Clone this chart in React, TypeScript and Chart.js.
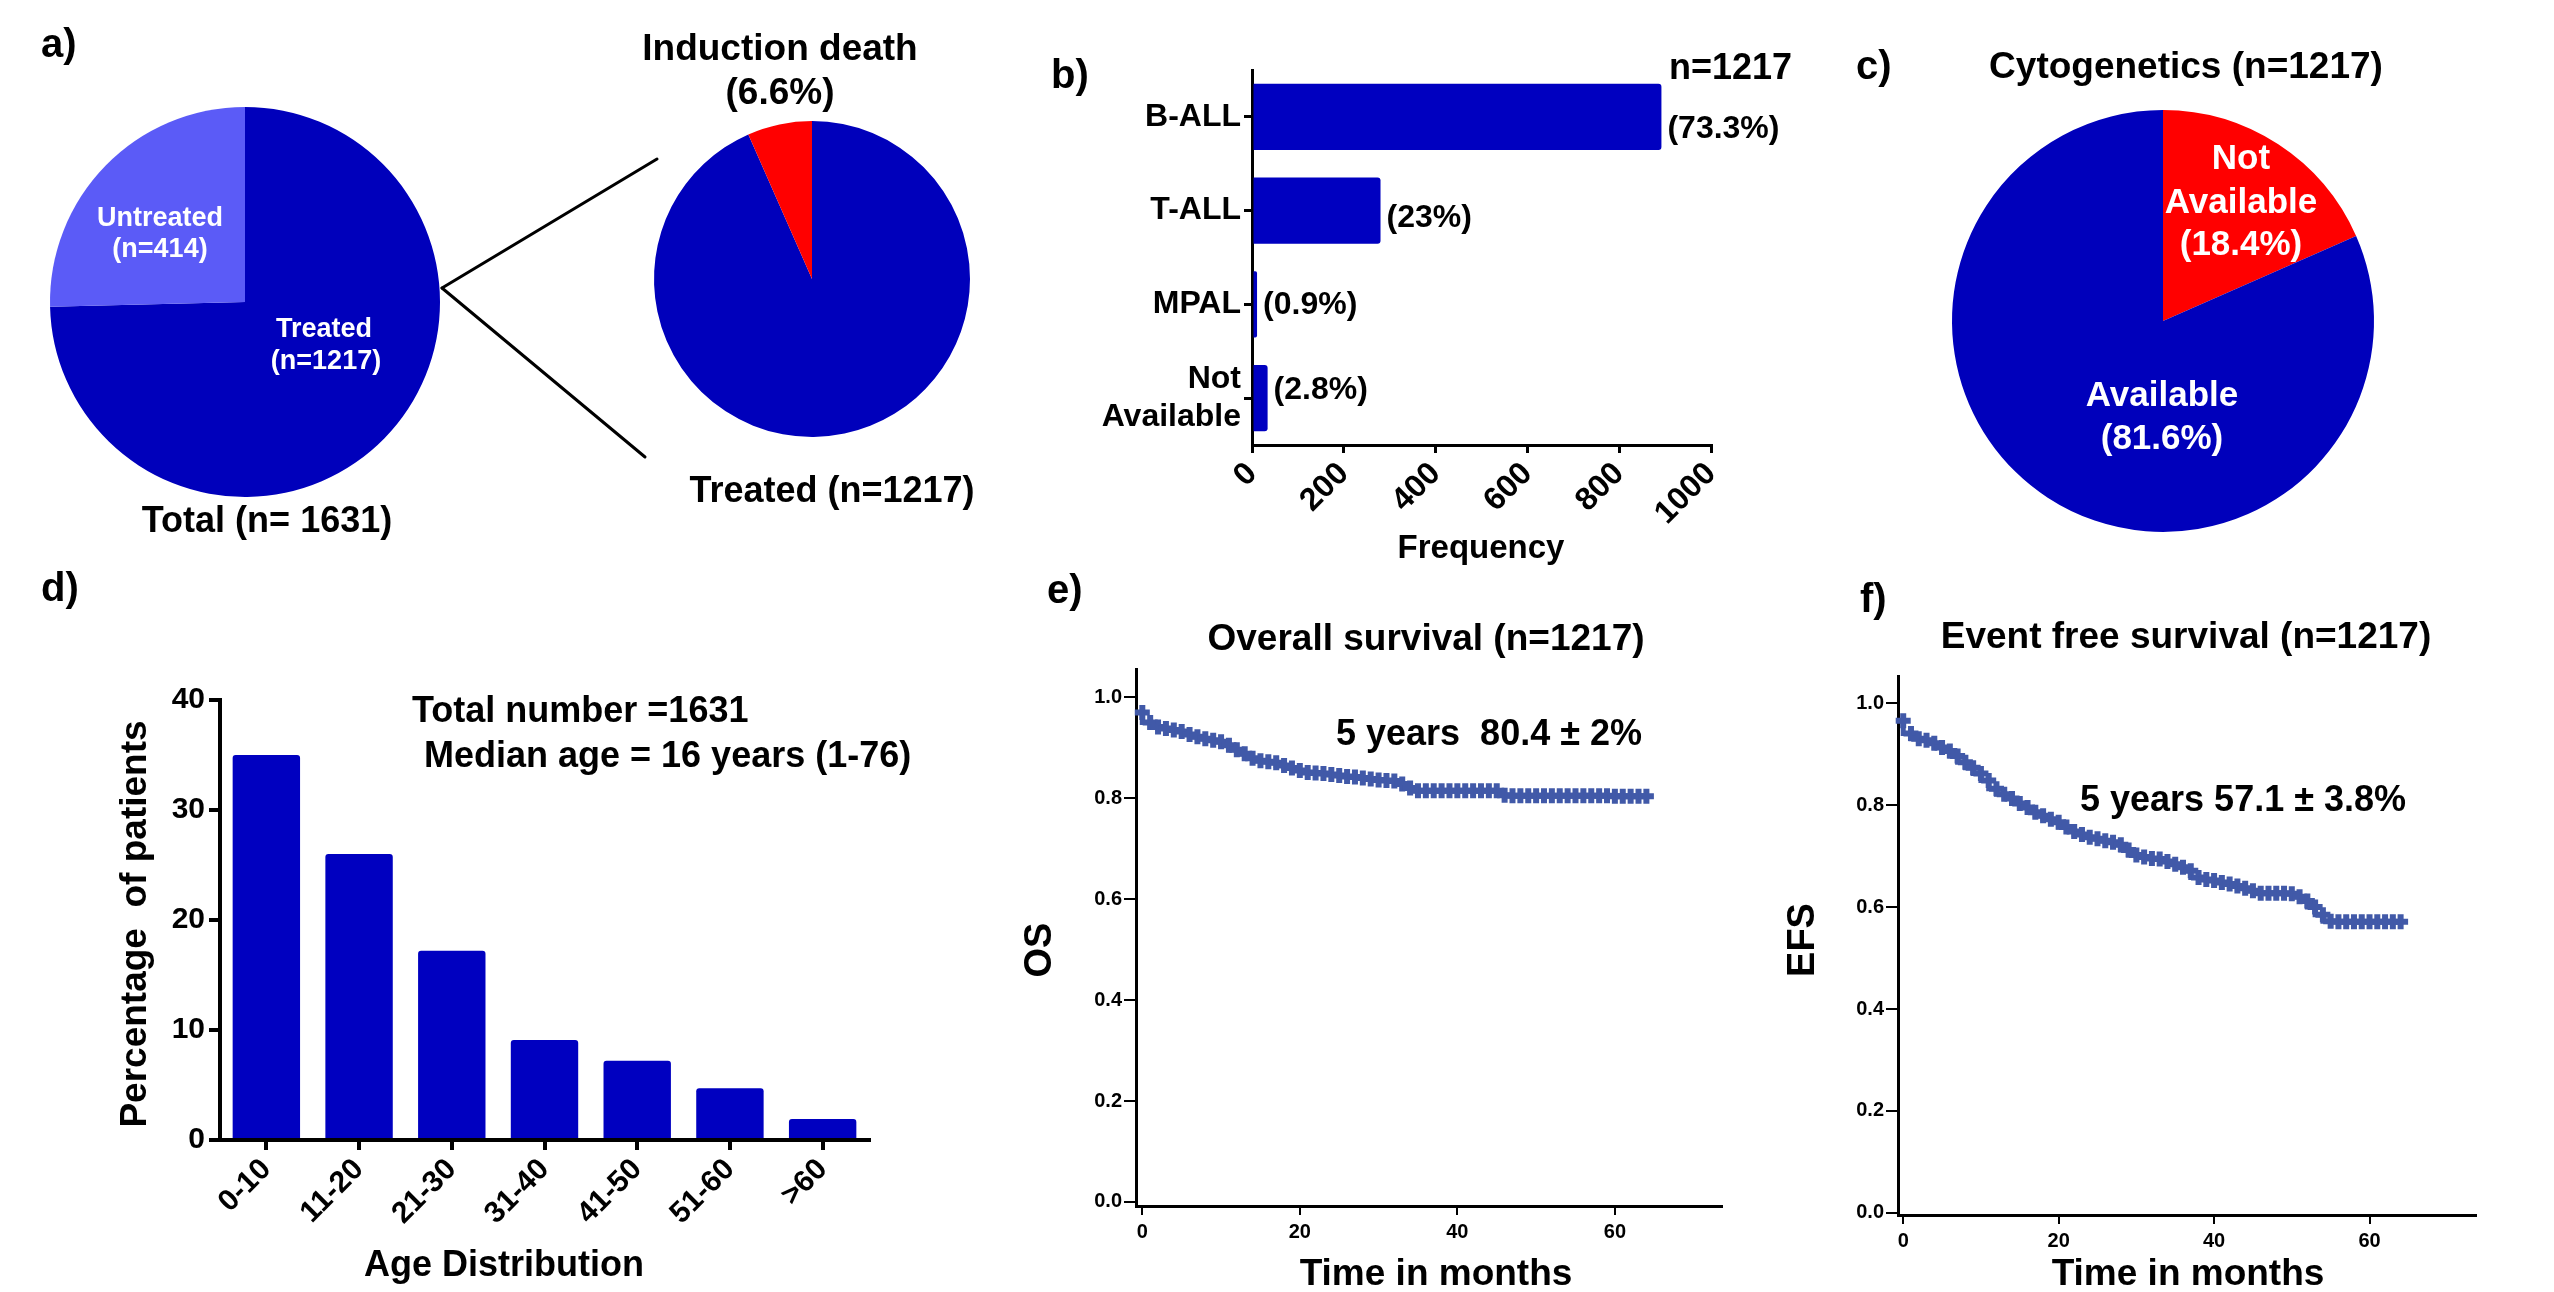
import React, { useEffect, useRef } from 'react';
import { Chart, registerables } from 'chart.js';

Chart.register(...registerables);

const FONT = "'Liberation Sans', Arial, Helvetica, sans-serif";
const PIE_BLUE = '#0000BB';
const PIE_LIGHT = '#5B5BF7';
const RED = '#FF0000';
const BAR_BLUE = '#0000C0';
const KM_BLUE = '#4159A8';

// ---------- Panel a ----------
const TOTAL_LABELS = ['Treated', 'Untreated'];
const TOTAL_COUNTS = [1217, 414];
const TREATED_LABELS = ['Alive after induction', 'Induction death'];
const TREATED_PERCENT = [93.4, 6.6];

// ---------- Panel b ----------
const LINEAGE_LABELS = ['B-ALL', 'T-ALL', 'MPAL', 'Not Available'];
const LINEAGE_COUNTS = [892, 280, 11, 34];
const LINEAGE_PCT = ['(73.3%)', '(23%)', '(0.9%)', '(2.8%)'];
const FREQ_TICKS = [0, 200, 400, 600, 800, 1000];

// ---------- Panel c ----------
const CYTO_LABELS = ['Not Available', 'Available'];
const CYTO_PERCENT = [18.4, 81.6];

// ---------- Panel d ----------
const AGE_GROUPS = ['0-10', '11-20', '21-30', '31-40', '41-50', '51-60', '>60'];
const AGE_PERCENT = [35, 26, 17.2, 9.1, 7.2, 4.7, 1.9];
const PCT_TICKS = [0, 10, 20, 30, 40];

// ---------- Panels e / f ----------
const MONTHS = [
  0, 1, 2, 3, 4, 5, 6, 7, 8, 9,
  10, 11, 12, 13, 14, 15, 16, 17, 18, 19,
  20, 21, 22, 23, 24, 25, 26, 27, 28, 29,
  30, 31, 32, 33, 34, 35, 36, 37, 38, 39,
  40, 41, 42, 43, 44, 45, 46, 47, 48, 49,
  50, 51, 52, 53, 54, 55, 56, 57, 58, 59,
  60, 61, 62, 63, 64,
];
const OS = [
  0.970, 0.950, 0.941, 0.938, 0.935, 0.932, 0.926, 0.922, 0.918, 0.915,
  0.912, 0.905, 0.896, 0.888, 0.879, 0.874, 0.872, 0.870, 0.865, 0.860,
  0.855, 0.851, 0.850, 0.849, 0.847, 0.845, 0.843, 0.842, 0.840, 0.838,
  0.836, 0.835, 0.834, 0.828, 0.820, 0.815, 0.815, 0.815, 0.815, 0.815,
  0.815, 0.815, 0.815, 0.815, 0.815, 0.815, 0.806, 0.805, 0.805, 0.805,
  0.805, 0.805, 0.805, 0.805, 0.805, 0.805, 0.805, 0.805, 0.805, 0.805,
  0.804, 0.804, 0.804, 0.804, 0.804,
];
const EFS = [
  0.965, 0.940, 0.930, 0.927, 0.921, 0.913, 0.906, 0.896, 0.884, 0.873,
  0.862, 0.848, 0.832, 0.821, 0.813, 0.803, 0.795, 0.786, 0.779, 0.772,
  0.766, 0.757, 0.748, 0.742, 0.737, 0.734, 0.730, 0.727, 0.722, 0.712,
  0.702, 0.698, 0.695, 0.694, 0.689, 0.684, 0.678, 0.671, 0.658, 0.654,
  0.652, 0.648, 0.645, 0.641, 0.637, 0.632, 0.627, 0.627, 0.627, 0.627,
  0.626, 0.620, 0.612, 0.600, 0.585, 0.572, 0.571, 0.571, 0.571, 0.571,
  0.571, 0.571, 0.571, 0.571, 0.571,
];
const MONTH_TICKS = [0, 20, 40, 60];
const SURV_TICKS = [0, 0.2, 0.4, 0.6, 0.8, 1.0];

// ---------- helpers ----------
type Txt = { t: string; x: number; y: number; s: number; a?: CanvasTextAlign; c?: string; r?: number };
type Seg = [number, number, number, number];

function overlay(
  id: string,
  ox: number,
  oy: number,
  items: Txt[],
  segs: Seg[] = [],
  extra?: (chart: any, ctx: CanvasRenderingContext2D) => void
) {
  return {
    id,
    afterDraw(chart: any) {
      const ctx = chart.ctx as CanvasRenderingContext2D;
      ctx.save();
      ctx.strokeStyle = '#000';
      ctx.lineWidth = 3;
      ctx.lineCap = 'round';
      for (const [x1, y1, x2, y2] of segs) {
        ctx.beginPath();
        ctx.moveTo(x1 - ox, y1 - oy);
        ctx.lineTo(x2 - ox, y2 - oy);
        ctx.stroke();
      }
      for (const it of items) {
        ctx.save();
        ctx.translate(it.x - ox, it.y - oy);
        if (it.r) ctx.rotate(it.r);
        ctx.font = `bold ${it.s}px ${FONT}`;
        ctx.fillStyle = it.c ?? '#000';
        ctx.textAlign = it.a ?? 'center';
        ctx.textBaseline = 'middle';
        ctx.fillText(it.t, 0, 0);
        ctx.restore();
      }
      if (extra) extra(chart, ctx);
      ctx.restore();
    },
  };
}

const tickFont = (size: number) => ({ family: FONT, size, weight: 'bold' as const });

function axisStyle(lineW: number, tickLen: number, tickW: number) {
  return {
    grid: {
      display: true,
      drawOnChartArea: false,
      drawTicks: true,
      tickLength: tickLen,
      lineWidth: tickW,
      color: '#000',
      offset: false,
    },
    border: { display: true, color: '#000', width: lineW },
  };
}

const noPlugins = { legend: { display: false }, tooltip: { enabled: false } };

function pieConfig(labels: string[], values: number[], colors: string[], pad: any, plugin: any): any {
  return {
    type: 'pie',
    data: {
      labels,
      datasets: [{ data: values, backgroundColor: colors, borderWidth: 0, hoverOffset: 0, offset: 0 }],
    },
    options: {
      responsive: false,
      animation: false,
      events: [],
      layout: { padding: pad },
      plugins: noPlugins,
    },
    plugins: [plugin],
  };
}

function kmConfig(values: number[], pad: any, xMin: number, xMax: number, yMin: number, yMax: number, yW: number, xH: number, plugin: any): any {
  return {
    type: 'line',
    data: {
      datasets: [
        {
          data: MONTHS.map((m, i) => ({ x: m, y: values[i] })),
          stepped: 'after',
          borderColor: KM_BLUE,
          borderWidth: 5,
          pointStyle: 'cross',
          pointRadius: 7.5,
          pointBorderWidth: 6,
          pointBorderColor: KM_BLUE,
          pointBackgroundColor: KM_BLUE,
          fill: false,
          clip: 10,
        },
      ],
    },
    options: {
      responsive: false,
      animation: false,
      events: [],
      layout: { padding: pad },
      plugins: noPlugins,
      scales: {
        x: {
          type: 'linear',
          min: xMin,
          max: xMax,
          ...axisStyle(3, 9, 2),
          ticks: { font: tickFont(20), color: '#000', padding: 5, maxRotation: 0, callback: (v: any) => String(v) },
          afterBuildTicks: (s: any) => {
            s.ticks = MONTH_TICKS.map((v) => ({ value: v }));
          },
          afterFit: (s: any) => {
            s.height = xH;
          },
        },
        y: {
          type: 'linear',
          min: yMin,
          max: yMax,
          ...axisStyle(3, 12, 2),
          ticks: { font: tickFont(20), color: '#000', padding: 2, callback: (v: any) => Number(v).toFixed(1) },
          afterBuildTicks: (s: any) => {
            s.ticks = SURV_TICKS.map((v) => ({ value: v }));
          },
          afterFit: (s: any) => {
            s.width = yW;
          },
        },
      },
    },
    plugins: [plugin],
  };
}

// ---------- chart configs ----------
const configA1 = () =>
  pieConfig(
    TOTAL_LABELS,
    TOTAL_COUNTS,
    [PIE_BLUE, PIE_LIGHT],
    { left: 50, top: 107, right: 260, bottom: 63 },
    overlay(
      'a1',
      0,
      0,
      [
        { t: 'a)', x: 41, y: 46, s: 40, a: 'left' },
        { t: 'Untreated', x: 160, y: 219, s: 27, c: '#fff' },
        { t: '(n=414)', x: 160, y: 250, s: 27, c: '#fff' },
        { t: 'Treated', x: 324, y: 330, s: 27, c: '#fff' },
        { t: '(n=1217)', x: 326, y: 362, s: 27, c: '#fff' },
        { t: 'Total (n= 1631)', x: 267, y: 522, s: 36 },
      ],
      [
        [442, 288, 657, 159],
        [442, 288, 645, 457],
      ]
    )
  );

const configA2 = () =>
  pieConfig(
    TREATED_LABELS,
    TREATED_PERCENT,
    [PIE_BLUE, RED],
    { left: 54, top: 121, right: 50, bottom: 103 },
    overlay('a2', 600, 0, [
      { t: 'Induction death', x: 780, y: 50, s: 37 },
      { t: '(6.6%)', x: 780, y: 94, s: 37 },
      { t: 'Treated (n=1217)', x: 832, y: 492, s: 36 },
    ])
  );

const configC = () =>
  pieConfig(
    CYTO_LABELS,
    CYTO_PERCENT,
    [RED, PIE_BLUE],
    { left: 152, top: 110, right: 180, bottom: 68 },
    overlay('c', 1800, 0, [
      { t: 'c)', x: 1856, y: 68, s: 40, a: 'left' },
      { t: 'Cytogenetics (n=1217)', x: 2186, y: 68, s: 37 },
      { t: 'Not', x: 2241, y: 159, s: 35, c: '#fff' },
      { t: 'Available', x: 2241, y: 203, s: 35, c: '#fff' },
      { t: '(18.4%)', x: 2241, y: 245, s: 35, c: '#fff' },
      { t: 'Available', x: 2162, y: 396, s: 35, c: '#fff' },
      { t: '(81.6%)', x: 2162, y: 439, s: 35, c: '#fff' },
    ])
  );

const PCT_LABEL_DY = [12, 8, 1, -8];

const configB = (): any => ({
  type: 'bar',
  data: {
    labels: LINEAGE_LABELS,
    datasets: [
      {
        data: LINEAGE_COUNTS,
        backgroundColor: BAR_BLUE,
        borderRadius: 3,
        borderSkipped: 'start',
        barPercentage: 0.706,
        categoryPercentage: 1,
      },
    ],
  },
  options: {
    indexAxis: 'y',
    responsive: false,
    animation: false,
    events: [],
    layout: { padding: { top: 50, right: 89, left: 0, bottom: 0 } },
    plugins: noPlugins,
    scales: {
      y: {
        type: 'category',
        offset: true,
        ...axisStyle(3, 8, 3),
        ticks: {
          font: tickFont(32),
          color: '#000',
          padding: 3,
          autoSkip: false,
          callback: (_v: any, i: number) => {
            const l = LINEAGE_LABELS[i];
            return l.includes(' ') ? l.split(' ') : l;
          },
        },
        afterFit: (s: any) => {
          s.width = 252;
        },
      },
      x: {
        type: 'linear',
        min: 0,
        max: 1000,
        ...axisStyle(3, 8, 3),
        ticks: {
          font: tickFont(32),
          color: '#000',
          minRotation: 45,
          maxRotation: 45,
          autoSkip: false,
          padding: 2,
          callback: (v: any) => String(v),
        },
        afterBuildTicks: (s: any) => {
          s.ticks = FREQ_TICKS.map((v) => ({ value: v }));
        },
        afterFit: (s: any) => {
          s.height = 140;
        },
      },
    },
  },
  plugins: [
    overlay(
      'b',
      1000,
      20,
      [
        { t: 'b)', x: 1051, y: 77, s: 40, a: 'left' },
        { t: 'n=1217', x: 1669, y: 69, s: 36, a: 'left' },
        { t: 'Frequency', x: 1481, y: 549, s: 33 },
      ],
      [],
      (chart, ctx) => {
        const xs = chart.scales.x;
        const ys = chart.scales.y;
        ctx.font = `bold 32px ${FONT}`;
        ctx.fillStyle = '#000';
        ctx.textAlign = 'left';
        ctx.textBaseline = 'middle';
        LINEAGE_COUNTS.forEach((v, i) => {
          ctx.fillText(LINEAGE_PCT[i], xs.getPixelForValue(v) + 6, ys.getPixelForValue(i) + PCT_LABEL_DY[i]);
        });
      }
    ),
  ],
});

const configD = (): any => ({
  type: 'bar',
  data: {
    labels: AGE_GROUPS,
    datasets: [
      {
        data: AGE_PERCENT,
        backgroundColor: BAR_BLUE,
        borderRadius: 3,
        borderSkipped: 'start',
        barPercentage: 0.727,
        categoryPercentage: 1,
      },
    ],
  },
  options: {
    responsive: false,
    animation: false,
    events: [],
    layout: { padding: { top: 140, right: 81, left: 0, bottom: 0 } },
    plugins: noPlugins,
    scales: {
      x: {
        type: 'category',
        offset: true,
        ...axisStyle(4, 10, 4),
        ticks: { font: tickFont(30), color: '#000', minRotation: 45, maxRotation: 45, autoSkip: false, padding: 2 },
        afterFit: (s: any) => {
          s.height = 152;
        },
      },
      y: {
        type: 'linear',
        min: 0,
        max: 40,
        ...axisStyle(4, 11, 4),
        ticks: { font: tickFont(30), color: '#000', padding: 4 },
        afterBuildTicks: (s: any) => {
          s.ticks = PCT_TICKS.map((v) => ({ value: v }));
        },
        afterFit: (s: any) => {
          s.width = 200;
        },
      },
    },
  },
  plugins: [
    overlay('d', 20, 560, [
      { t: 'd)', x: 41, y: 590, s: 40, a: 'left' },
      { t: 'Total number =1631', x: 412, y: 712, s: 36, a: 'left' },
      { t: 'Median age = 16 years (1-76)', x: 424, y: 757, s: 36, a: 'left' },
      { t: 'Percentage  of patients', x: 136, y: 924, s: 37, r: -Math.PI / 2 },
      { t: 'Age Distribution', x: 504, y: 1266, s: 36 },
    ]),
  ],
});

const configE = () =>
  kmConfig(
    OS,
    { top: 109, right: 38, left: 0, bottom: 0 },
    -0.8,
    73.6,
    -0.008,
    1.056,
    136,
    86,
    overlay('e', 1000, 560, [
      { t: 'e)', x: 1047, y: 592, s: 40, a: 'left' },
      { t: 'Overall survival (n=1217)', x: 1426, y: 640, s: 37 },
      { t: '5 years  80.4 \u00B1 2%', x: 1336, y: 735, s: 36, a: 'left' },
      { t: 'OS', x: 1041, y: 950, s: 38, r: -Math.PI / 2 },
      { t: 'Time in months', x: 1436, y: 1275, s: 37 },
    ])
  );

const configF = () =>
  kmConfig(
    EFS,
    { top: 116, right: 78, left: 0, bottom: 0 },
    -0.67,
    73.7,
    -0.004,
    1.053,
    118,
    77,
    overlay('f', 1780, 560, [
      { t: 'f)', x: 1860, y: 601, s: 40, a: 'left' },
      { t: 'Event free survival (n=1217)', x: 2186, y: 638, s: 37 },
      { t: '5 years 57.1 \u00B1 3.8%', x: 2080, y: 801, s: 36, a: 'left' },
      { t: 'EFS', x: 1804, y: 940, s: 38, r: -Math.PI / 2 },
      { t: 'Time in months', x: 2188, y: 1275, s: 37 },
    ])
  );

// ---------- components ----------
function ChartCanvas({
  left,
  top,
  width,
  height,
  config,
}: {
  left: number;
  top: number;
  width: number;
  height: number;
  config: () => any;
}) {
  const ref = useRef<HTMLCanvasElement>(null);
  useEffect(() => {
    if (!ref.current) return;
    const chart = new Chart(ref.current, config());
    return () => chart.destroy();
  }, []);
  return (
    <canvas
      ref={ref}
      width={width}
      height={height}
      style={{ position: 'absolute', left, top, width, height }}
    />
  );
}

export default function App() {
  return (
    <div
      style={{
        position: 'absolute',
        left: 0,
        top: 0,
        width: 2554,
        height: 1292,
        background: '#fff',
        overflow: 'hidden',
      }}
    >
      <ChartCanvas left={0} top={0} width={700} height={560} config={configA1} />
      <ChartCanvas left={600} top={0} width={420} height={540} config={configA2} />
      <ChartCanvas left={1000} top={20} width={800} height={565} config={configB} />
      <ChartCanvas left={1800} top={0} width={754} height={600} config={configC} />
      <ChartCanvas left={20} top={560} width={930} height={732} config={configD} />
      <ChartCanvas left={1000} top={560} width={760} height={732} config={configE} />
      <ChartCanvas left={1780} top={560} width={774} height={732} config={configF} />
    </div>
  );
}
